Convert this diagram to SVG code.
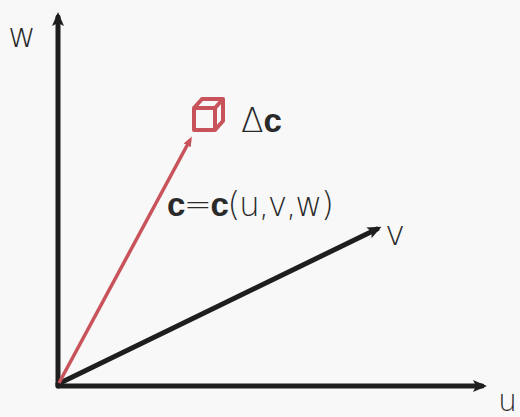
<svg xmlns="http://www.w3.org/2000/svg" width="520" height="417" viewBox="0 0 520 417">
<defs>
<style>
.ax{stroke:#1e1e1e;stroke-width:5;fill:none;stroke-linecap:round}
.red{stroke:#c8535b;fill:none}
.lbl{font-family:"DejaVu Sans","Liberation Sans",sans-serif;font-weight:200;fill:#2a2a2a}
.b{font-family:"Liberation Sans",sans-serif;font-weight:bold}
</style>
<marker id="ah" markerWidth="14" markerHeight="14" refX="9" refY="7" orient="auto" markerUnits="userSpaceOnUse" viewBox="0 0 14 14">
<path d="M0,1 L14,7 L0,13 L3,7 Z" fill="#1e1e1e"/>
</marker>
<marker id="ahr" markerWidth="10" markerHeight="10" refX="6" refY="5" orient="auto" markerUnits="userSpaceOnUse" viewBox="0 0 10 10">
<path d="M0,1 L10,5 L0,9 Z" fill="#c8535b"/>
</marker>
</defs>
<rect width="520" height="417" fill="#f8f8f8"/>
<g id="connectors">
<line class="ax" x1="58" y1="386" x2="58" y2="17" marker-end="url(#ah)"/>
<line class="ax" x1="58" y1="386" x2="482" y2="386" marker-end="url(#ah)"/>
<line class="ax" x1="58" y1="384" x2="377" y2="229" marker-end="url(#ah)"/>
<line class="red" stroke-width="3.5" x1="59" y1="383" x2="190" y2="140" marker-end="url(#ahr)"/>
</g>
<g id="cube">
<g class="red" stroke-width="4" stroke-linejoin="round">
<rect x="194" y="108" width="21" height="22"/>
<path d="M194,108 L202,99 L223,99 L215,108 M223,99 L223,121 L215,130"/>
</g>
</g>
<g id="axis-w"><text class="lbl" x="8" y="47" font-size="34">w</text></g>
<g id="axis-v"><text class="lbl" x="385" y="245" font-size="34">v</text></g>
<g id="axis-u"><text class="lbl" x="498" y="411" font-size="30">u</text></g>
<g id="label-dc"><text class="lbl" x="241" y="132" font-size="33">Δ<tspan class="b">c</tspan></text></g>
<g id="label-c"><text class="lbl" x="167" y="216" font-size="33" letter-spacing="-1.3"><tspan class="b">c</tspan>=<tspan class="b">c</tspan>(u,v,w)</text></g>
</svg>
